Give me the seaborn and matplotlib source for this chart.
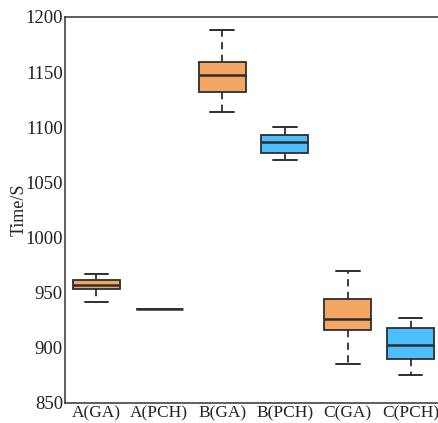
import numpy as np
import pandas as pd
import matplotlib
matplotlib.use("Agg")
import matplotlib.pyplot as plt
import seaborn as sns

categories = ["A(GA)", "A(PCH)", "B(GA)", "B(PCH)", "C(GA)", "C(PCH)"]
# five-number summaries per group: min, q1, median, q3, max
a_ga = [941.3, 953.0, 956.7, 961.6, 967.3]
a_pch = [935.0, 935.0, 935.0, 935.0, 935.0]
b_ga = [1113.9, 1132.3, 1147.7, 1159.5, 1188.0]
b_pch = [1070.4, 1076.7, 1086.7, 1092.7, 1100.6]
c_ga = [885.7, 916.0, 926.5, 944.6, 969.7]
c_pch = [875.7, 890.0, 902.3, 918.0, 927.1]
yticks = [850, 900, 950, 1000, 1050, 1100, 1150, 1200]

groups = [a_ga, a_pch, b_ga, b_pch, c_ga, c_pch]
df = pd.DataFrame({
    "cat": np.repeat(categories, [len(g) for g in groups]),
    "val": np.concatenate(groups),
})

orange = "#F4A665"
blue = "#4DBEFE"
palette = {c: (orange if "GA)" in c else blue) for c in categories}
edge = "#2E2E2E"

sns.set_style("white")
plt.rcParams["font.family"] = ["Liberation Serif", "DejaVu Serif"]

fig = plt.figure(figsize=(4.39, 4.23), dpi=100)
ax = fig.add_axes([65 / 439, 20 / 423, 377 / 439, 386 / 423])

sns.boxplot(data=df, x="cat", y="val", hue="cat", palette=palette, order=categories,
            whis=np.inf, width=0.75, legend=False, ax=ax, saturation=1,
            linecolor=edge, linewidth=1.3,
            whiskerprops=dict(linestyle=(0, (4, 3)), color=edge, linewidth=1.3),
            capprops=dict(color=edge, linewidth=1.4),
            medianprops=dict(color=edge, linewidth=1.8))

ax.set_ylim(850, 1200)
ax.set_xlim(-0.5, 5.5)
ax.set_yticks(yticks)
ax.set_xlabel("")
ax.set_ylabel("Time/S", fontsize=13)
ax.yaxis.set_label_coords(-0.098, 0.5)
ax.tick_params(axis="both", direction="in", length=3, width=0.8, colors="#222222",
               pad=1.5)
ax.tick_params(axis="y", labelsize=13.5)
ax.tick_params(axis="x", labelsize=12.5)
for s in ["left", "bottom", "top", "right"]:
    ax.spines[s].set_color("#333333")
    ax.spines[s].set_linewidth(1.1)

fig.savefig("out.png", dpi=100)
